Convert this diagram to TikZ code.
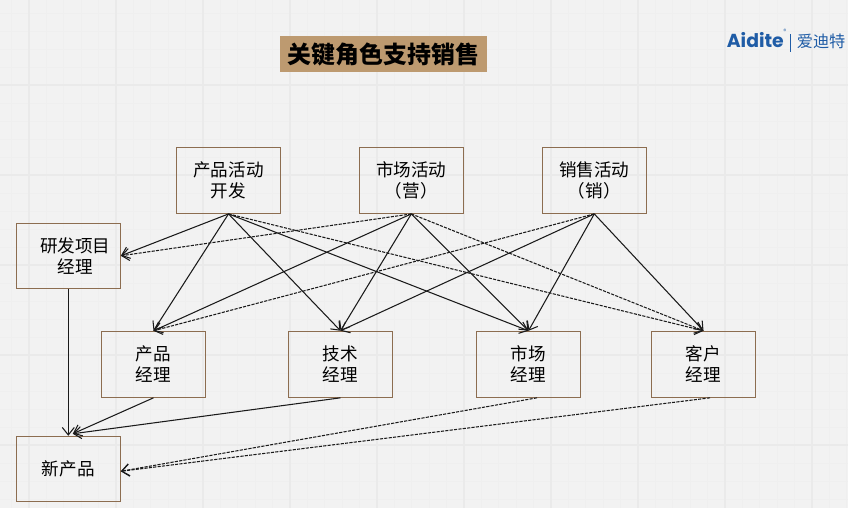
\documentclass[tikz,border=0pt]{standalone}
\usepackage{fontspec}
\setmainfont{Noto Sans CJK SC}
\newfontfamily\logofont{Poppins}
\usetikzlibrary{arrows.meta}
\definecolor{paper}{HTML}{F2F2F2}
\definecolor{gridminor}{HTML}{EFEFEF}
\definecolor{gridmajor}{HTML}{EAEAEA}
\definecolor{boxline}{HTML}{8C6D50}
\definecolor{titlefill}{HTML}{BD9A70}
\definecolor{logoblue}{HTML}{1F5CA6}
\definecolor{edgeline}{HTML}{1A1A1A}
\tikzset{
  rolebox/.style={draw=boxline,line width=0.6pt,minimum width=2.08cm,minimum height=1.32cm,
    inner sep=0pt,align=center,font=\fontsize{10}{11.9}\selectfont},
  solidedge/.style={draw=edgeline,line width=0.6pt,-{Straight Barb[length=1.5mm,width=2.4mm]}},
  dashedge/.style={solidedge,dash pattern=on 1.8pt off 0.7pt},
}
\begin{document}
\begin{tikzpicture}
\useasboundingbox (0,0) rectangle (16.96,10.16);
\fill[paper] (0,0) rectangle (16.96,10.16);
\foreach \k in {0,...,48}
  \draw[gridminor,line width=0.4pt] ({0.232+\k*0.348},0) -- ({0.232+\k*0.348},10.16);
\foreach \k in {0,...,27}
  \draw[gridminor,line width=0.4pt] (0,{0.18+\k*0.36}) -- (16.96,{0.18+\k*0.36});
\foreach \k in {0,...,9}
  \draw[gridmajor,line width=0.8pt] ({0.58+\k*1.74},0) -- ({0.58+\k*1.74},10.16);
\foreach \k in {0,...,5}
  \draw[gridmajor,line width=0.8pt] (0,{1.26+\k*1.8}) -- (16.96,{1.26+\k*1.8});

\node[fill=titlefill,minimum width=4.14cm,minimum height=0.72cm,inner sep=0pt,
  font=\fontsize{13.6}{14}\selectfont\bfseries] (title) at (7.67,9.08) {关键角色支持销售};

\node[text=logoblue,inner sep=0pt,anchor=base west,font=\logofont\fontsize{10.7}{12}\selectfont\bfseries] (logoname) at (14.53,9.2) {Aidite};
\node[text=logoblue,inner sep=0pt,font=\logofont\fontsize{3.5}{4}\selectfont] (logomark) at (15.7,9.54) {®};
\node[fill=logoblue,minimum width=0.02cm,minimum height=0.36cm,inner sep=0pt] (logobar) at (15.8,9.3) {};
\node[text=logoblue,inner sep=0pt,anchor=base west,font=\fontsize{9.2}{10}\selectfont] (logocn) at (15.93,9.2) {爱迪特};

\node[rolebox] (AP) at (4.57,6.552) {产品活动\\开发};
\node[rolebox] (AM) at (8.226,6.552) {市场活动\\（营）};
\node[rolebox] (AS) at (11.886,6.552) {销售活动\\（销）};
\node[rolebox,minimum height=1.3cm] (RD) at (1.366,5.044) {\hspace*{0.28cm}研发项目\\\hspace*{0.28cm}经理};
\node[rolebox] (PM) at (3.07,2.874) {产品\\经理};
\node[rolebox] (TM) at (6.81,2.874) {技术\\经理};
\node[rolebox] (MM) at (10.57,2.874) {市场\\经理};
\node[rolebox] (CM) at (14.07,2.874) {客户\\经理};
\node[rolebox,minimum height=1.3cm] (NP) at (1.366,0.784) {新产品};

\draw[solidedge] (AP.south) to (RD.east);
\draw[solidedge] (AP.south) to (PM.north);
\draw[solidedge] (AP.south) to (TM.north);
\draw[solidedge] (AP.south) to (MM.north);
\draw[dashedge] (AP.south) to (CM.north);

\draw[dashedge] (AM.south) to (RD.east);
\draw[solidedge] (AM.south) to (PM.north);
\draw[solidedge] (AM.south) to (TM.north);
\draw[solidedge] (AM.south) to (MM.north);
\draw[dashedge] (AM.south) to (CM.north);

\draw[dashedge] (AS.south) to (PM.north);
\draw[solidedge] (AS.south) to (TM.north);
\draw[solidedge] (AS.south) to (MM.north);
\draw[solidedge] (AS.south) to (CM.north);

\draw[solidedge] (RD.south) to (NP.north);
\draw[solidedge] (PM.south) to ([xshift=0.09cm,yshift=0.04cm]NP.north);
\draw[solidedge] (TM.south) to ([xshift=0.09cm,yshift=0.04cm]NP.north);
\draw[dashedge] ([xshift=0.17cm]MM.south) to ([yshift=-0.05cm]NP.east);
\draw[dashedge] ([xshift=0.13cm]CM.south) to ([yshift=-0.05cm]NP.east);
\end{tikzpicture}
\end{document}
